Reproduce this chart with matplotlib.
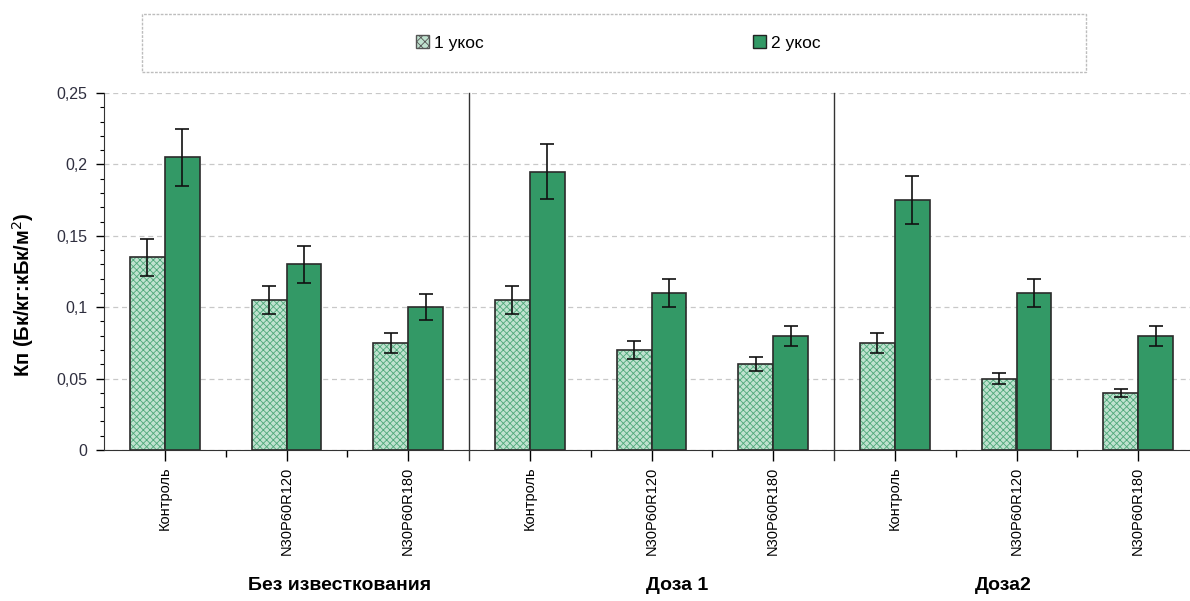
import matplotlib
matplotlib.use('Agg')

import matplotlib.pyplot as plt
import numpy as np
from matplotlib.patches import Rectangle
from matplotlib.ticker import MultipleLocator, FixedLocator

plt.rcParams['font.family'] = ['Liberation Sans', 'DejaVu Sans']
plt.rcParams['hatch.linewidth'] = 0.6

# data
categories = ['Контроль', 'N30P60R120', 'N30P60R180'] * 3
groups = ['Без известкования', 'Доза 1', 'Доза2']
cut1 = [0.135, 0.105, 0.075, 0.105, 0.070, 0.060, 0.075, 0.050, 0.040]
cut1_err = [0.013, 0.010, 0.007, 0.010, 0.006, 0.005, 0.007, 0.004, 0.003]
cut2 = [0.205, 0.130, 0.100, 0.195, 0.110, 0.080, 0.175, 0.110, 0.080]
cut2_err = [0.020, 0.013, 0.009, 0.019, 0.010, 0.007, 0.017, 0.010, 0.007]
series_names = ['1 укос', '2 укос']
yticks = [0, 0.05, 0.1, 0.15, 0.2, 0.25]
ytick_labels = ['0', '0,05', '0,1', '0,15', '0,2', '0,25']

light = '#bfe2cf'
hatch_col = '#4fa87a'
dark = '#339966'
edge = '#2b2b2b'

fig = plt.figure(figsize=(11.9, 6.01), dpi=100)
ax = fig.add_axes([104/1190, 151/601, 1095/1190, 357/601])

x = np.arange(len(categories))
w = 0.285

# first cut: hatched light bars (hatch colour comes from the edge colour)
ax.bar(x - w/2, cut1, w, color=light, edgecolor=hatch_col, hatch='xxxxx',
       linewidth=0, zorder=2)
ax.bar(x - w/2, cut1, w, color='none', edgecolor=edge, linewidth=1.2, zorder=3)
ax.errorbar(x - w/2, cut1, yerr=cut1_err, fmt='none', ecolor='#111111',
            elinewidth=1.2, capsize=5, capthick=1.2, zorder=4)

ax.bar(x + w/2, cut2, w, color=dark, edgecolor=edge, linewidth=1.2, zorder=3)
ax.errorbar(x + w/2, cut2, yerr=cut2_err, fmt='none', ecolor='#111111',
            elinewidth=1.2, capsize=5, capthick=1.2, zorder=4)

ax.set_xlim(-0.5, 8.5)
ax.set_ylim(0, 0.25)

# y axis
ax.set_yticks(yticks)
ax.set_yticklabels(ytick_labels, fontsize=11.5, color='#2f2f3f')
ax.yaxis.set_minor_locator(MultipleLocator(0.01))
ax.tick_params(axis='y', which='major', direction='out', length=6, width=1, pad=6)
ax.tick_params(axis='y', which='minor', direction='out', length=3, width=0.8)
ax.grid(axis='y', which='major', linestyle=(0, (4, 3)), color='#c8c8c8', linewidth=0.9, zorder=0)
ax.set_ylabel('Кп (Бк/кг:кБк/м$^2$)', fontsize=14.5, fontweight='bold')
ax.yaxis.set_label_coords(-0.062, 0.435)

# x axis
ax.set_xticks(x)
ax.set_xticklabels(categories, rotation=90, fontsize=10.5,
                   family=['Liberation Sans Narrow', 'Liberation Sans', 'DejaVu Sans'])
ax.xaxis.set_minor_locator(FixedLocator([0.5, 1.5, 3.5, 4.5, 6.5, 7.5]))
ax.tick_params(axis='x', which='major', direction='out', length=8, width=1, pad=4)
ax.tick_params(axis='x', which='minor', direction='out', length=5, width=1)

for s in ['top', 'right']:
    ax.spines[s].set_visible(False)
ax.spines['left'].set_color('#333333')
ax.spines['bottom'].set_color('#333333')

# group separators
for xs in [2.5, 5.5]:
    ax.plot([xs, xs], [-0.007, 0.25], color='#333333', linewidth=1, clip_on=False, zorder=5)

# group labels
for gx, g in zip([1.44, 4.21, 6.89], groups):
    ax.text(gx, -0.095, g, ha='center', va='center', fontsize=14,
            fontweight='bold', transform=ax.transData)

# legend box
fig.patches.append(Rectangle((142/1190, 1 - 72/601), (1086 - 142)/1190, 58/601,
                             transform=fig.transFigure, fill=False,
                             edgecolor='#bdbdbd', linestyle=(0, (2, 1)), linewidth=1))
h1 = Rectangle((0, 0), 1, 1, facecolor=light, edgecolor='#555555', hatch='xxxx', linewidth=1)
h2 = Rectangle((0, 0), 1, 1, facecolor=dark, edgecolor='#222222', linewidth=1)
fig.legend([h1, h2], series_names, loc='center', bbox_to_anchor=(618/1190, 1 - 43/601),
           ncol=2, frameon=False, fontsize=12.5, handlelength=0.75, handleheight=0.75,
           handletextpad=0.3, columnspacing=15.5)

fig.savefig('out.png', dpi=100)
